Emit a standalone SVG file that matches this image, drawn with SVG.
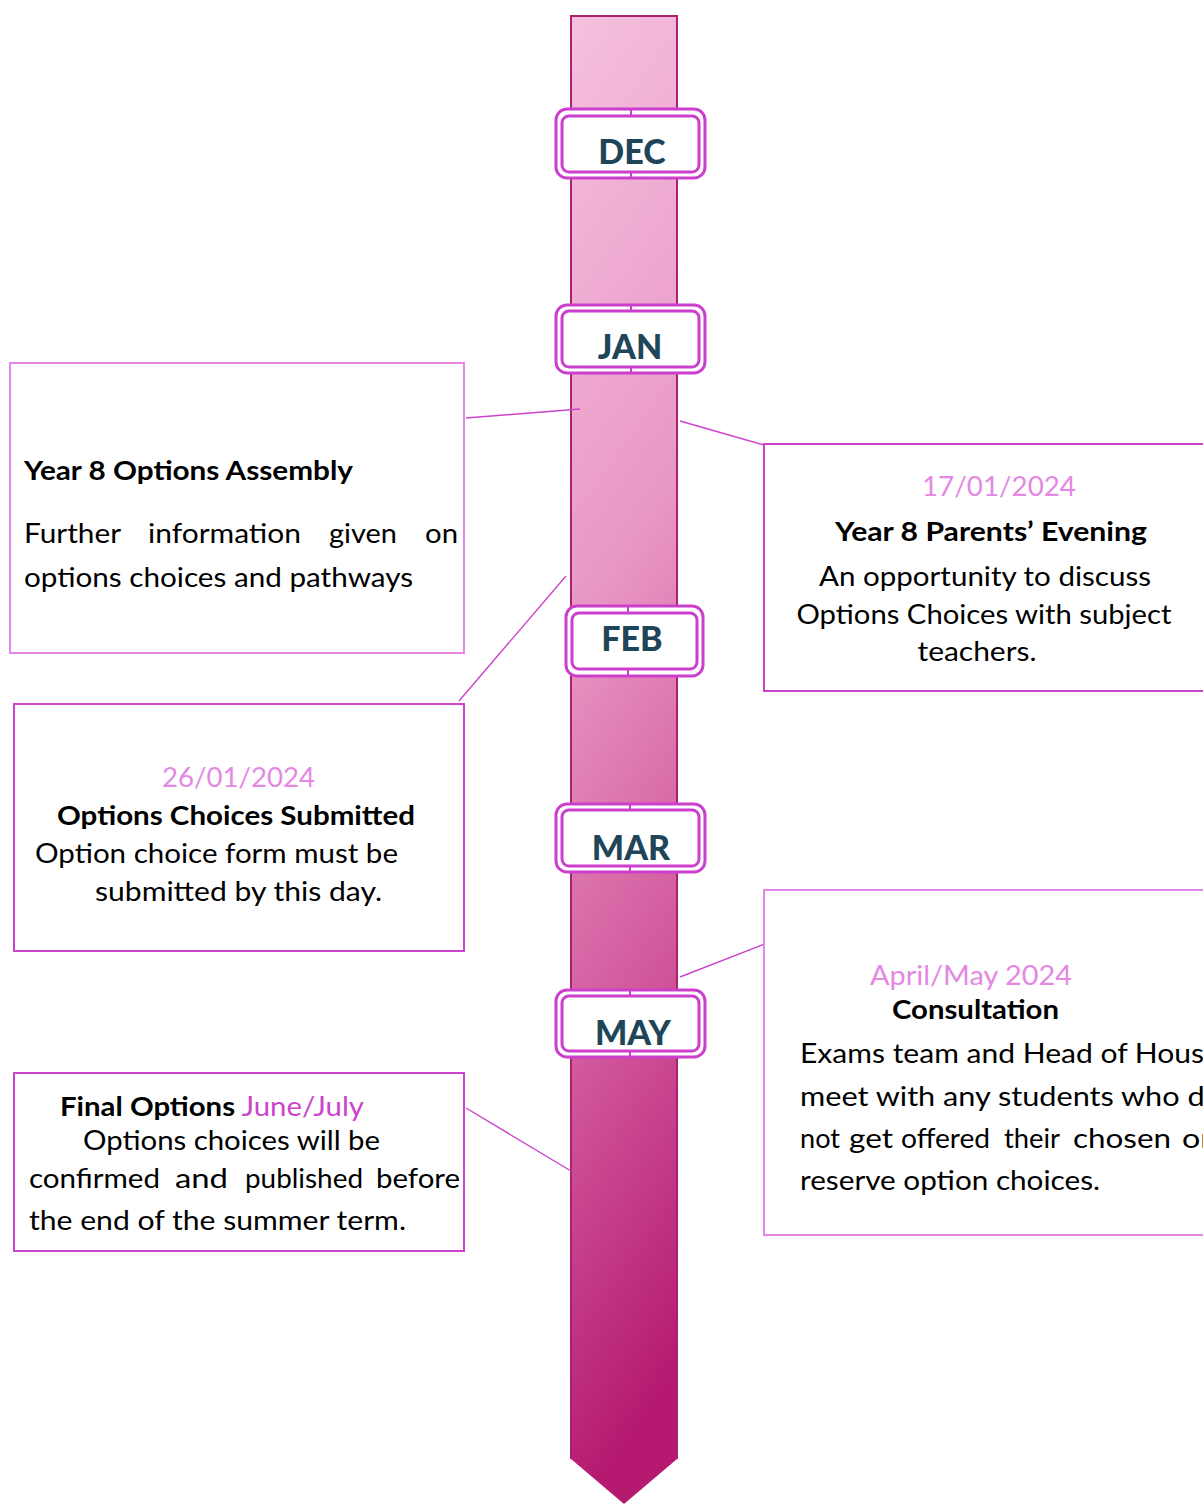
<svg xmlns="http://www.w3.org/2000/svg" width="1203" height="1504" viewBox="0 0 1203 1504">
<defs>
<linearGradient id="barGrad" x1="0" y1="0" x2="0.1" y2="1">
<stop offset="0" stop-color="#F5C0DE"/>
<stop offset="0.4" stop-color="#E998C6"/>
<stop offset="0.7" stop-color="#D25A9D"/>
<stop offset="1" stop-color="#B51A70"/>
</linearGradient>
<style>
.box{fill:#fff;stroke:#CC44CC;stroke-width:2}
.boxl{fill:#fff;stroke:#E385EA;stroke-width:2}
.mo{fill:#fff;stroke:#CC3FCC;stroke-width:3}
.mt{font-family:Lato,"Liberation Sans",sans-serif;font-weight:900;font-size:34px;fill:#1F4558;text-anchor:middle}
.t{font-family:Lato,"Liberation Sans",sans-serif;font-size:27px;fill:#000}
.b{font-weight:bold}
.d{fill:#E488E4}
.c{text-anchor:middle}
.conn{stroke:#CC44CC;stroke-width:1.4;fill:none}
</style>
</defs>
<rect width="1203" height="1504" fill="#fff"/>
<g id="timeline">
<path d="M571,16 H677 V1459 L624,1504 L571,1459 Z" fill="url(#barGrad)"/>
<path d="M571,1459 V16 H677 V1459" fill="none" stroke="#A8226E" stroke-width="2"/>
</g>
<g id="connectors">
<line class="conn" x1="466" y1="418" x2="580" y2="409"/>
<line class="conn" x1="680" y1="421" x2="764" y2="445"/>
<line class="conn" x1="566" y1="576" x2="459" y2="701"/>
<line class="conn" x1="680" y1="977" x2="767" y2="943"/>
<line class="conn" x1="466" y1="1108" x2="571" y2="1171"/>
</g>
<g id="month-dec">
<rect class="mo" x="556" y="109" width="149" height="69" rx="11"/>
<rect class="mo" x="562" y="116" width="137" height="56" rx="7"/>
<line x1="631" y1="109" x2="631" y2="116" stroke="#CC3FCC" stroke-width="2"/>
<line x1="631" y1="172" x2="631" y2="178" stroke="#CC3FCC" stroke-width="2"/>
<text class="mt" x="632" y="164">DEC</text>
</g>
<g id="month-jan">
<rect class="mo" x="556" y="305" width="149" height="68" rx="11"/>
<rect class="mo" x="562" y="311" width="137" height="56" rx="7"/>
<line x1="631" y1="305" x2="631" y2="311" stroke="#CC3FCC" stroke-width="2"/>
<line x1="631" y1="367" x2="631" y2="373" stroke="#CC3FCC" stroke-width="2"/>
<text class="mt" x="630" y="359">JAN</text>
</g>
<g id="month-feb">
<rect class="mo" x="566" y="606" width="137" height="70" rx="11"/>
<rect class="mo" x="572" y="613" width="125" height="56" rx="7"/>
<line x1="628" y1="606" x2="628" y2="613" stroke="#CC3FCC" stroke-width="2"/>
<line x1="628" y1="669" x2="628" y2="676" stroke="#CC3FCC" stroke-width="2"/>
<text class="mt" x="632" y="651">FEB</text>
</g>
<g id="month-mar">
<rect class="mo" x="556" y="804" width="149" height="68" rx="11"/>
<rect class="mo" x="562" y="810" width="137" height="56" rx="7"/>
<line x1="630" y1="804" x2="630" y2="810" stroke="#CC3FCC" stroke-width="2"/>
<line x1="630" y1="866" x2="630" y2="872" stroke="#CC3FCC" stroke-width="2"/>
<text class="mt" x="631" y="860">MAR</text>
</g>
<g id="month-may">
<rect class="mo" x="556" y="990" width="149" height="67" rx="11"/>
<rect class="mo" x="562" y="996" width="137" height="55" rx="7"/>
<line x1="630" y1="990" x2="630" y2="996" stroke="#CC3FCC" stroke-width="2"/>
<line x1="630" y1="1051" x2="630" y2="1057" stroke="#CC3FCC" stroke-width="2"/>
<text class="mt" x="633" y="1045">MAY</text>
</g>
<g id="box-assembly">
<rect class="boxl" x="10" y="363" width="454" height="290"/>
<text class="t b" x="24" y="480" textLength="329" lengthAdjust="spacingAndGlyphs">Year 8 Options Assembly</text>
<text class="t" x="24" y="543" textLength="97" lengthAdjust="spacingAndGlyphs">Further</text>
<text class="t" x="148" y="543" textLength="153" lengthAdjust="spacingAndGlyphs">information</text>
<text class="t" x="329" y="543" textLength="68" lengthAdjust="spacingAndGlyphs">given</text>
<text class="t" x="425" y="543" textLength="33" lengthAdjust="spacingAndGlyphs">on</text>
<text class="t" x="24" y="587" textLength="389" lengthAdjust="spacingAndGlyphs">options choices and pathways</text>
</g>
<g id="box-parents">
<rect class="box" x="764" y="444" width="450" height="247"/>
<text class="t d c" x="999" y="496" textLength="154" lengthAdjust="spacingAndGlyphs">17/01/2024</text>
<text class="t b c" x="991" y="541" textLength="312" lengthAdjust="spacingAndGlyphs">Year 8 Parents’ Evening</text>
<text class="t c" x="985" y="586" textLength="332" lengthAdjust="spacingAndGlyphs">An opportunity to discuss</text>
<text class="t c" x="984" y="624" textLength="375" lengthAdjust="spacingAndGlyphs">Options Choices with subject</text>
<text class="t c" x="977" y="661" textLength="119" lengthAdjust="spacingAndGlyphs">teachers.</text>
</g>
<g id="box-submitted">
<rect class="box" x="14" y="704" width="450" height="247"/>
<text class="t d" x="162" y="787" textLength="153" lengthAdjust="spacingAndGlyphs">26/01/2024</text>
<text class="t b" x="57" y="825" textLength="358" lengthAdjust="spacingAndGlyphs">Options Choices Submitted</text>
<text class="t" x="35" y="863" textLength="363" lengthAdjust="spacingAndGlyphs">Option choice form must be</text>
<text class="t" x="95" y="901" textLength="287" lengthAdjust="spacingAndGlyphs">submitted by this day.</text>
</g>
<g id="box-consultation">
<rect class="boxl" x="764" y="890" width="450" height="345"/>
<text class="t d" x="870" y="985" textLength="202" lengthAdjust="spacingAndGlyphs">April/May 2024</text>
<text class="t b" x="892" y="1019" textLength="167" lengthAdjust="spacingAndGlyphs">Consultation</text>
<text class="t" x="800" y="1063" textLength="420" lengthAdjust="spacingAndGlyphs">Exams team and Head of House</text>
<text class="t" x="800" y="1106" textLength="422" lengthAdjust="spacingAndGlyphs">meet with any students who do</text>
<text class="t" x="800" y="1148" textLength="40" lengthAdjust="spacingAndGlyphs">not</text>
<text class="t" x="849" y="1148" textLength="44" lengthAdjust="spacingAndGlyphs">get</text>
<text class="t" x="901" y="1148" textLength="89" lengthAdjust="spacingAndGlyphs">offered</text>
<text class="t" x="1004" y="1148" textLength="56" lengthAdjust="spacingAndGlyphs">their</text>
<text class="t" x="1073" y="1148" textLength="98" lengthAdjust="spacingAndGlyphs">chosen</text>
<text class="t" x="1182" y="1148" textLength="30" lengthAdjust="spacingAndGlyphs">or</text>
<text class="t" x="800" y="1190" textLength="300" lengthAdjust="spacingAndGlyphs">reserve option choices.</text>
</g>
<g id="box-final">
<rect class="box" x="14" y="1073" width="450" height="178"/>
<text class="t" x="60" y="1116" textLength="304" lengthAdjust="spacingAndGlyphs"><tspan class="b">Final Options</tspan><tspan fill="#CC44CC"> June/July</tspan></text>
<text class="t" x="83" y="1150" textLength="297" lengthAdjust="spacingAndGlyphs">Options choices will be</text>
<text class="t" x="29" y="1188" textLength="131" lengthAdjust="spacingAndGlyphs">confirmed</text>
<text class="t" x="175" y="1188" textLength="53" lengthAdjust="spacingAndGlyphs">and</text>
<text class="t" x="245" y="1188" textLength="118" lengthAdjust="spacingAndGlyphs">published</text>
<text class="t" x="376" y="1188" textLength="84" lengthAdjust="spacingAndGlyphs">before</text>
<text class="t" x="29" y="1230" textLength="377" lengthAdjust="spacingAndGlyphs">the end of the summer term.</text>
</g>
</svg>
